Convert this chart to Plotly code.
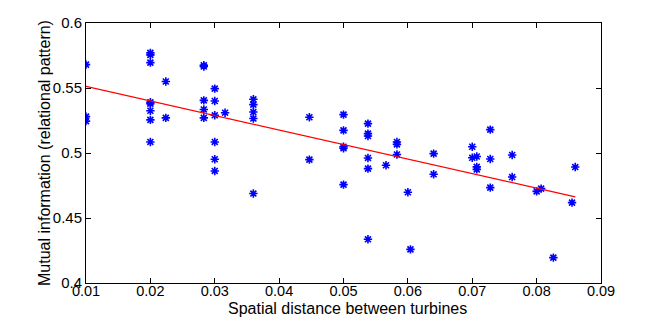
import plotly.graph_objects as go

# Scatter data: spatial distance between turbines vs mutual information
distance = [
    0.01, 0.01, 0.01,
    0.02, 0.02, 0.02, 0.02, 0.02, 0.02, 0.02, 0.02,
    0.0224, 0.0224,
    0.0283, 0.0283, 0.0283, 0.0283, 0.0283,
    0.03, 0.03, 0.03, 0.03, 0.03, 0.03,
    0.0316,
    0.036, 0.036, 0.036, 0.036, 0.036,
    0.0447, 0.0447,
    0.05, 0.05, 0.05, 0.05, 0.05,
    0.0538, 0.0538, 0.0538, 0.0538, 0.0538, 0.0538,
    0.0566,
    0.0583, 0.0583, 0.0583,
    0.060, 0.0604,
    0.064, 0.064,
    0.070, 0.070, 0.0707, 0.0707, 0.0707,
    0.0728, 0.0728, 0.0728,
    0.0762, 0.0762,
    0.080, 0.0807,
    0.0826,
    0.0855, 0.086,
]
mutual_info = [
    0.568, 0.528, 0.5245,
    0.577, 0.5755, 0.5695, 0.539, 0.538, 0.5325, 0.5255, 0.5085,
    0.555, 0.527,
    0.5675, 0.5665, 0.5405, 0.5335, 0.527,
    0.5495, 0.540, 0.529, 0.5085, 0.4952, 0.4862,
    0.531,
    0.5413, 0.5372, 0.5315, 0.5265, 0.4688,
    0.5275, 0.4949,
    0.5295, 0.5174, 0.5048, 0.5036, 0.4757,
    0.5226, 0.5149, 0.5131, 0.4962, 0.488, 0.4336,
    0.4906,
    0.5085, 0.5066, 0.4989,
    0.4698, 0.4259,
    0.4995, 0.4836,
    0.5048, 0.4963, 0.4973, 0.4893, 0.4874,
    0.518, 0.4954, 0.4734,
    0.4985, 0.4815,
    0.4705, 0.4726,
    0.4195,
    0.4618, 0.4892,
]

# Fitted regression line (end points)
fit_x = [0.01, 0.086]
fit_y = [0.5512, 0.4663]

x_ticks = [0.01, 0.02, 0.03, 0.04, 0.05, 0.06, 0.07, 0.08, 0.09]
y_ticks = [0.4, 0.45, 0.5, 0.55, 0.6]
x_title = "Spatial distance between turbines"
y_title = "Mutual information (relational pattern)"

fig = go.Figure()
fig.add_trace(go.Scatter(
    x=distance, y=mutual_info, mode="markers",
    marker=dict(symbol="asterisk-open", size=7, color="#0000ff",
                line=dict(color="#0000ff", width=1.6)),
    showlegend=False,
))
fig.add_trace(go.Scatter(
    x=fit_x, y=fit_y, mode="lines",
    line=dict(color="#ff0000", width=1.2),
    showlegend=False,
))

tick_font = dict(family="Liberation Sans, Arial, sans-serif", size=15, color="#000000")
xtick_font = dict(family="Liberation Sans, Arial, sans-serif", size=14.5, color="#000000")
title_font = dict(family="Liberation Sans, Arial, sans-serif", size=16, color="#000000")

fig.update_layout(
    width=656, height=310,
    margin=dict(l=78, r=63, t=15, b=35),
    paper_bgcolor="#ffffff", plot_bgcolor="#ffffff",
    font=tick_font,
)
fig.update_xaxes(
    range=[0.01, 0.09], tickvals=x_ticks, ticktext=[f"{v:g}" for v in x_ticks],
    ticks="inside", ticklen=5, tickcolor="#000000", tickwidth=1,
    showline=True, linecolor="#000000", linewidth=1, mirror="ticks",
    showgrid=False, zeroline=False, automargin=False,
    tickfont=xtick_font, ticklabelstandoff=-5,
)
fig.update_yaxes(
    range=[0.4, 0.6], tickvals=y_ticks, ticktext=[f"{v:g}" for v in y_ticks],
    ticks="inside", ticklen=5, tickcolor="#000000", tickwidth=1,
    showline=True, linecolor="#000000", linewidth=1, mirror="ticks",
    showgrid=False, zeroline=False, automargin=False,
    tickfont=tick_font,
)
fig.add_annotation(
    text=x_title, xref="paper", yref="paper", x=0.508, y=-0.098,
    xanchor="center", yanchor="middle", showarrow=False, font=title_font,
)
fig.add_annotation(
    text=y_title, xref="paper", yref="paper", x=-0.0816, y=0.5,
    xanchor="center", yanchor="middle", showarrow=False, textangle=-90,
    font=title_font,
)

fig.write_html("out.html")
